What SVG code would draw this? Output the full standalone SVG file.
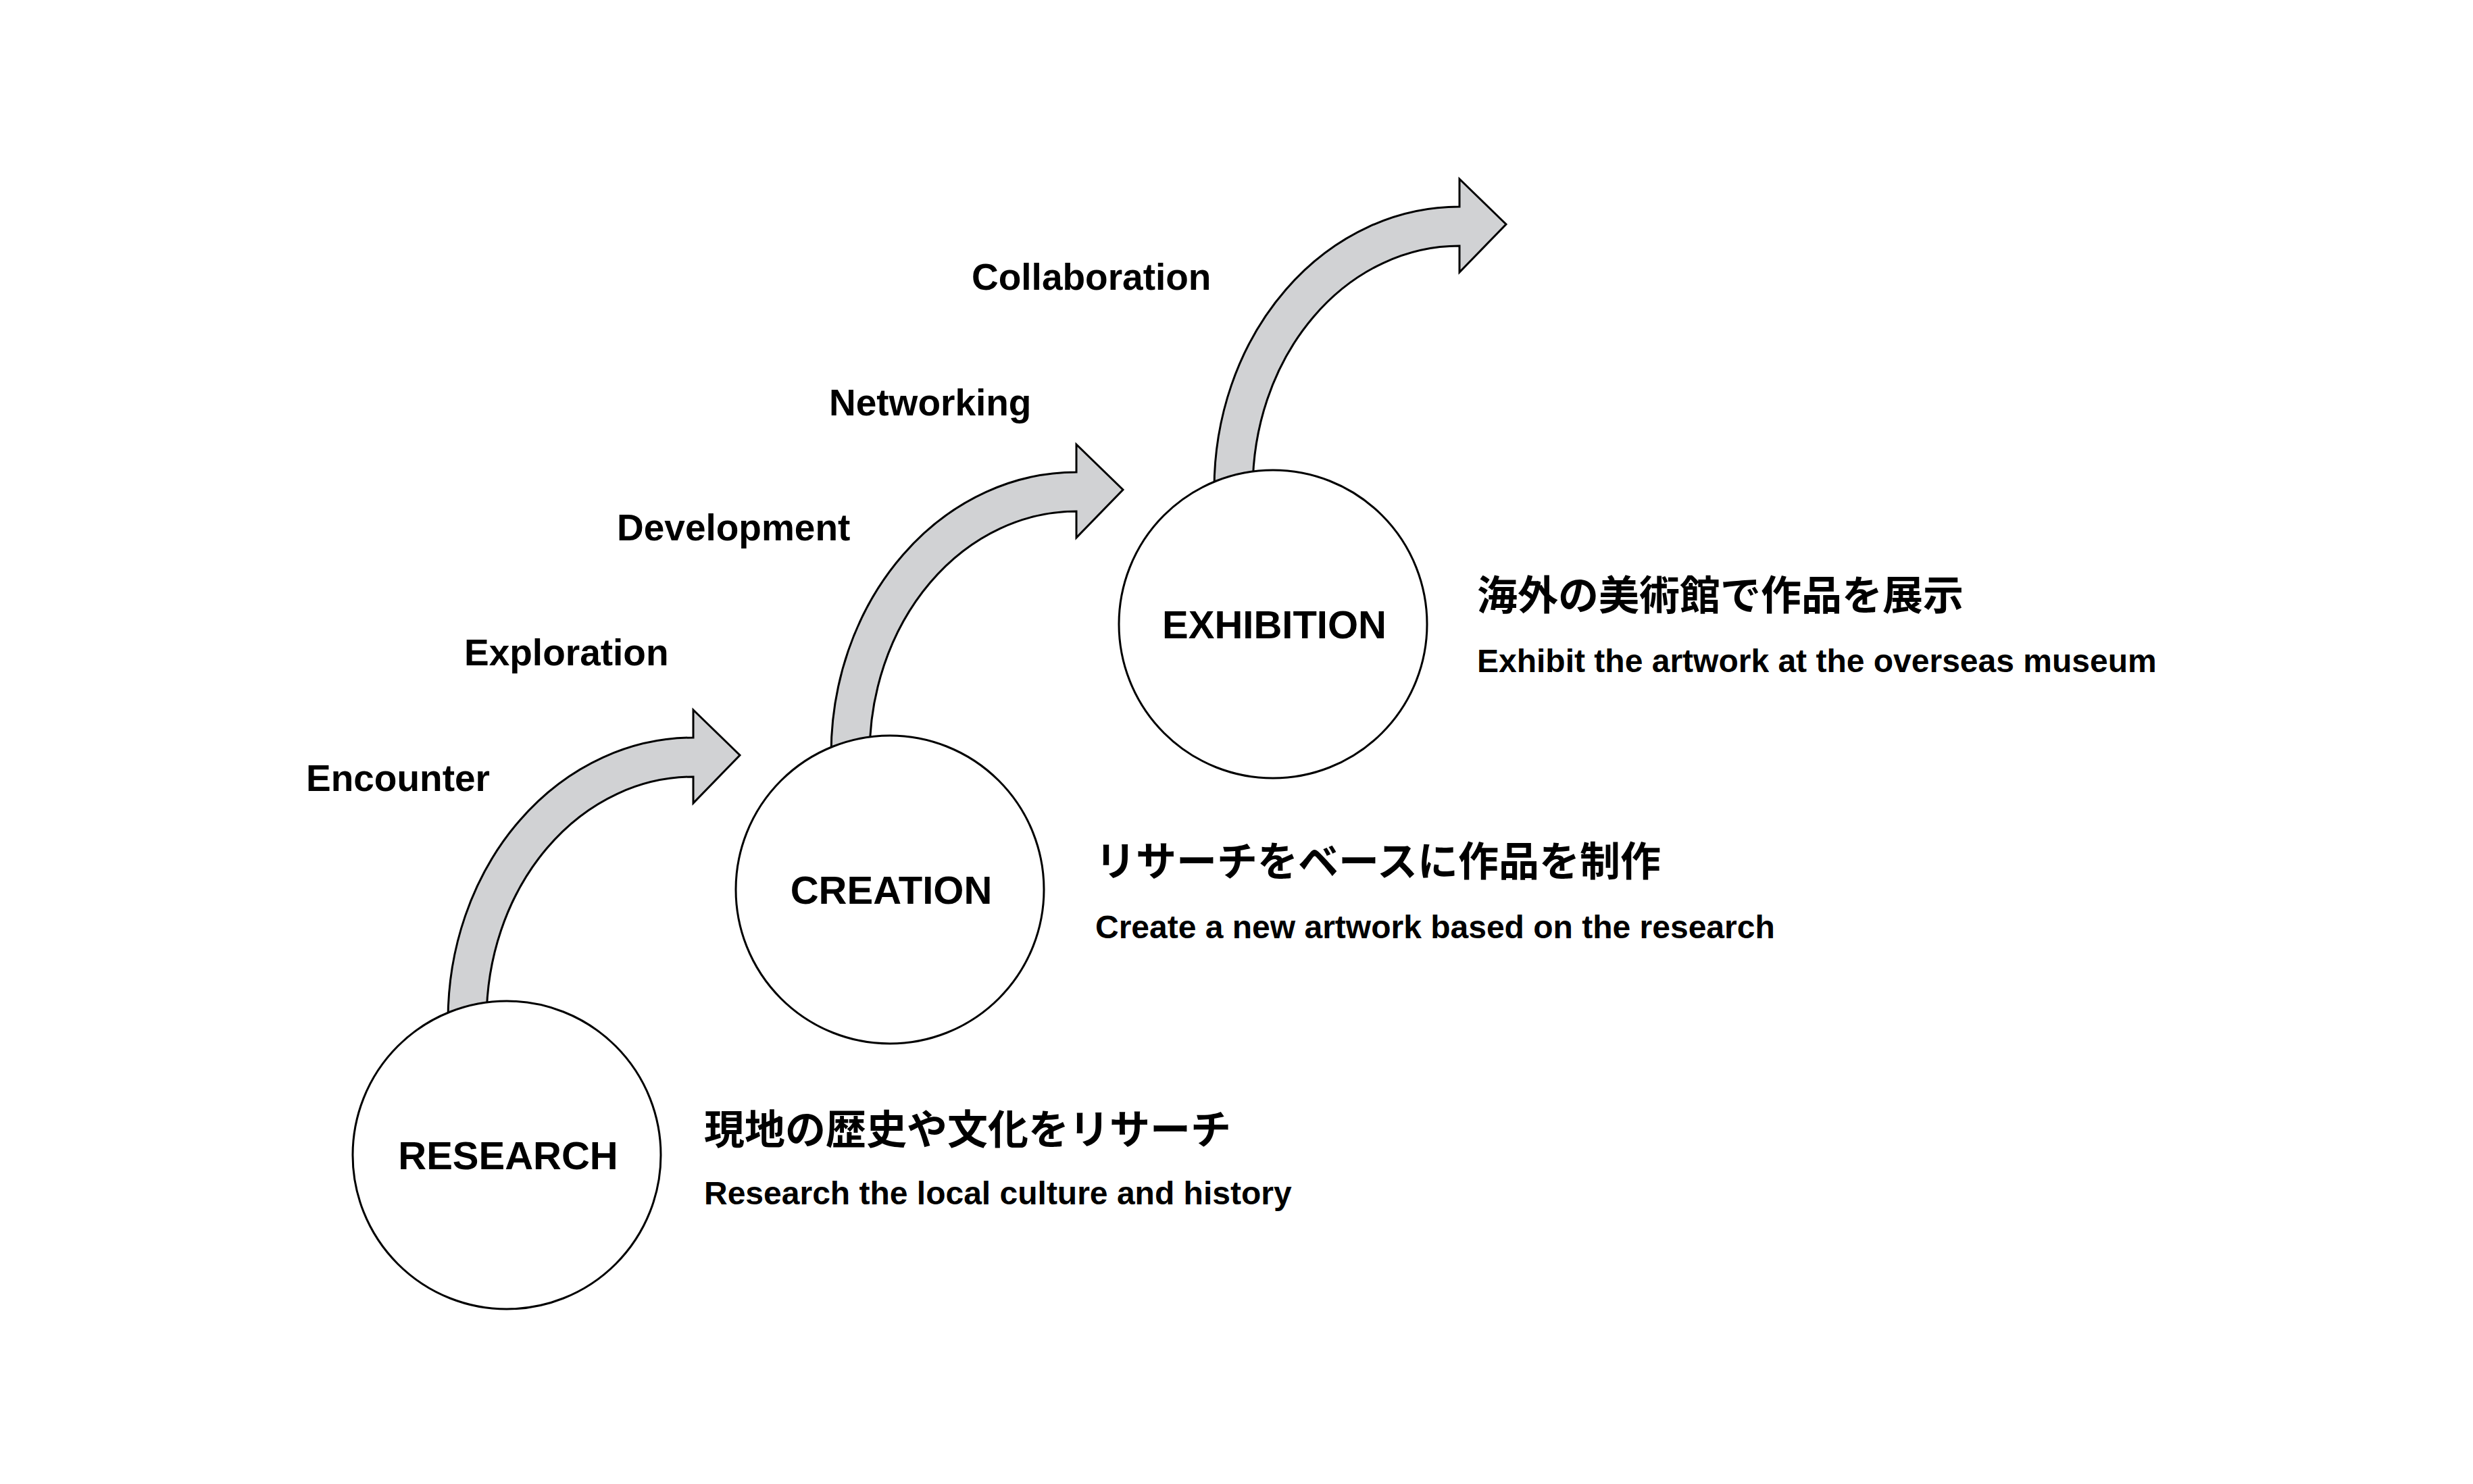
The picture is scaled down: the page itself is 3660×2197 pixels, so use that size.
<svg xmlns="http://www.w3.org/2000/svg" width="3660" height="2197" viewBox="0 0 3660 2197">
<defs>
<style>
.t{font-family:"Liberation Sans",Arial,sans-serif;font-weight:bold;fill:#000}
.lab{font-size:55px}
.cl{font-size:58px;text-anchor:middle}
.jp{font-family:"Liberation Sans","Noto Sans CJK JP",sans-serif;font-weight:bold;font-size:60px}
.en{font-size:48px}
.arr{fill:#d1d2d4;stroke:#000;stroke-width:3}
.c{fill:#fff;stroke:#000;stroke-width:3}
</style>
<path id="a" class="arr" d="M-87,-200 A363,418 0 0 1 276,-618 L276,-659 L345,-592 L276,-521 L276,-560 A306,360 0 0 0 -30,-200 Z"/>
</defs>
<rect width="3660" height="2197" fill="#fff"/>
<g id="connectors">
<use href="#a" transform="translate(750,1710)"/>
<use href="#a" transform="translate(1317,1317)"/>
<use href="#a" transform="translate(1884,924)"/>
</g>
<g id="research"><circle class="c" cx="750" cy="1710" r="228"/><text class="t cl" x="752" y="1731">RESEARCH</text></g>
<g id="creation"><circle class="c" cx="1317" cy="1317" r="228"/><text class="t cl" x="1319" y="1338">CREATION</text></g>
<g id="exhibition"><circle class="c" cx="1884" cy="924" r="228"/><text class="t cl" x="1886" y="945">EXHIBITION</text></g>
<g id="labels">
<text class="t lab" x="453" y="1171">Encounter</text>
<text class="t lab" x="687" y="985">Exploration</text>
<text class="t lab" x="913" y="800">Development</text>
<text class="t lab" x="1227" y="615">Networking</text>
<text class="t lab" x="1438" y="429">Collaboration</text>
</g>
<g id="desc-research"><text class="jp" x="1042" y="1694">現地の歴史や文化をリサーチ</text><text class="t en" x="1042" y="1783">Research the local culture and history</text></g>
<g id="desc-creation"><text class="jp" x="1621" y="1297">リサーチをベースに作品を制作</text><text class="t en" x="1621" y="1389">Create a new artwork based on the research</text></g>
<g id="desc-exhibition"><text class="jp" x="2186" y="903">海外の美術館で作品を展示</text><text class="t en" x="2186" y="995">Exhibit the artwork at the overseas museum</text></g>
</svg>
